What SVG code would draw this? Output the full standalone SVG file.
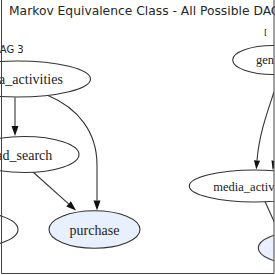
<svg xmlns="http://www.w3.org/2000/svg" width="275" height="275" viewBox="0 0 275 275">
<style>
.title{font-family:"DejaVu Sans",sans-serif;font-size:12.3px;fill:#262626}
.sub{font-family:"DejaVu Sans",sans-serif;font-size:10px;fill:#262626}
.n ellipse{fill:#fff;stroke:#333;stroke-width:1.1}
.n.t ellipse{fill:#e8f0fd}
.n text{font-family:"Liberation Serif","Times New Roman",serif;font-size:14px;fill:#222;text-anchor:middle}
.d4 .n text{font-size:12.5px}
.e path{fill:none;stroke:#333;stroke-width:1.1}
.frame{stroke:#444;stroke-width:1;fill:none}
</style>
<defs>
<marker id="ah" markerWidth="10" markerHeight="7" refX="0" refY="3.5" orient="auto" markerUnits="userSpaceOnUse" overflow="visible"><path d="M0,0 L10,3.5 L0,7 Z" fill="#111"/></marker>
<marker id="ah2" markerWidth="9" markerHeight="6.2" refX="0" refY="3.1" orient="auto" markerUnits="userSpaceOnUse" overflow="visible"><path d="M0,0 L9,3.1 L0,6.2 Z" fill="#111"/></marker>
<clipPath id="c4"><rect x="100" y="20" width="174" height="253"/></clipPath>
<clipPath id="c4t"><rect x="250" y="20" width="16.3" height="20"/></clipPath>
</defs>
<text class="title" x="9" y="15">Markov Equivalence Class - All Possible DAGs</text>
<g id="dag3">
<text class="sub" x="-7.8" y="52.5">DAG 3</text>
<g class="e" id="edges3">
<path d="M15,97.5 L15,126" marker-end="url(#ah)"/>
<path d="M48,95.5 C78,108 97,132 97,165 L97,200.5" marker-end="url(#ah)"/>
<path d="M33,172 L68.6,203.8" marker-end="url(#ah)"/>
</g>
<g class="n" id="media_activities_3"><ellipse cx="17" cy="79" rx="73.5" ry="18"/><text x="17" y="84">media_activities</text></g>
<g class="n" id="ad_search_3"><ellipse cx="24.3" cy="154.5" rx="54.7" ry="18"/><text x="24.3" y="159.5">ad_search</text></g>
<g class="n" id="other_3"><ellipse cx="-37" cy="229.5" rx="55" ry="18.7"/></g>
<g class="n t" id="purchase_3"><ellipse cx="94.5" cy="229.5" rx="45.5" ry="18.8"/><text x="94.5" y="234.5">purchase</text></g>
</g>
<text class="sub" x="264" y="36" style="font-size:8.5px" clip-path="url(#c4t)">DAG 4</text>
<g id="dag4" class="d4" clip-path="url(#c4)">
<g class="e" id="edges4">
<path d="M274,92 C267,113 259,135 257,160.5" marker-end="url(#ah2)"/>
<path d="M290,135 C282,148 276,154 274.5,161" marker-end="url(#ah2)"/>
<path d="M265,201.5 L282,239"/>
</g>
<g class="n" id="gender_4"><ellipse cx="273" cy="60" rx="40.3" ry="14.5"/><text x="273" y="64.3">gender</text></g>
<g class="n" id="media_activities_4"><ellipse cx="254.3" cy="186" rx="65" ry="16"/><text x="254.3" y="190.5">media_activities</text></g>
<g class="n t" id="purchase_4"><ellipse cx="298.3" cy="248" rx="40" ry="16"/><text x="298.3" y="252.5">purchase</text></g>
</g>
<g id="frame">
<path class="frame" d="M1.5,0 L1.5,273.5 L274,273.5 L274,0"/>
</g>
</svg>
